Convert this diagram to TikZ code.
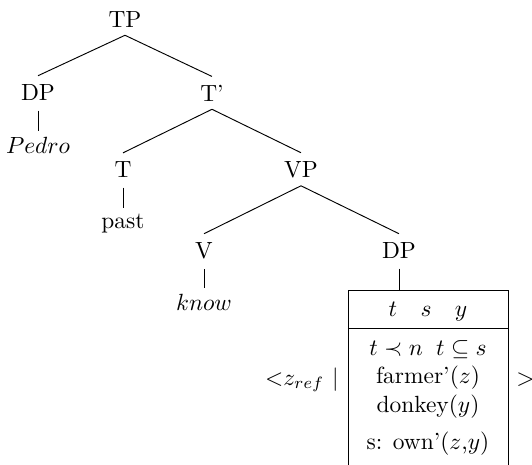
\documentclass[tikz,border=0pt]{standalone}
\usepackage{amssymb}
\begin{document}
\begin{tikzpicture}[x=0.015cm, y=-0.015cm]
    \useasboundingbox (0, 0) rectangle (532, 465);
    \tikzset{lbl/.style={anchor=base}, unary/.style={shorten <=1pt, shorten >=-1pt}}

    % Tree labels (placed on their baselines)
    \node[lbl] (TP) at (125, 27) {TP};
    \node[lbl] (DPa) at (38, 100) {DP};
    \node[lbl] (Tbar) at (212, 101) {T'};
    \node[lbl] (pedro) at (38, 153) {$Pedro$};
    \node[lbl] (T) at (123, 177) {T};
    \node[lbl] (VP) at (301, 177) {VP};
    \node[lbl] (past) at (123, 228) {past};
    \node[lbl] (V) at (204, 258) {V};
    \node[lbl] (DPb) at (399, 258) {DP};
    \node[lbl] (know) at (204, 310) {$know$};

    % Branches
    \draw (TP.south) -- (DPa.north);
    \draw (TP.south) -- (Tbar.north);
    \draw (Tbar.south) -- (T.north);
    \draw (Tbar.south) -- (VP.north);
    \draw (VP.south) -- (V.north);
    \draw (VP.south) -- (DPb.north);
    \draw[unary] (DPa.south) -- (pedro.north);
    \draw[unary] (T.south) -- (past.north);
    \draw[unary] (V.south) -- (know.north);

    % DRS box (bottom runs off the page)
    \coordinate (drstop) at (399, 290);
    \draw (348, 465) -- (348, 290) -- (508, 290) -- (508, 465);
    \draw (348, 328) -- (508, 328);
    \draw[shorten <=1pt] (DPb.south) -- (drstop);

    % Universe
    \node[lbl] (univ) at (428, 316) {$t \quad s \quad y$};

    % Conditions
    \node[lbl] (cond1) at (428, 355) {$t \prec n\;\; t \subseteq s$};
    \node[lbl] (cond2) at (428, 383) {farmer'($z$)};
    \node[lbl] (cond3) at (428, 412) {donkey($y$)};
    \node[lbl] (cond4) at (428, 449) {s: own'($z$,$y$)};

    % Brackets round the box
    \node[lbl, anchor=base east] (open) at (347, 385) {$<$$z_{ref}$ $|$};
    \node[lbl, anchor=base west, inner sep=0pt] (close) at (516, 385) {$>$};
\end{tikzpicture}
\end{document}
